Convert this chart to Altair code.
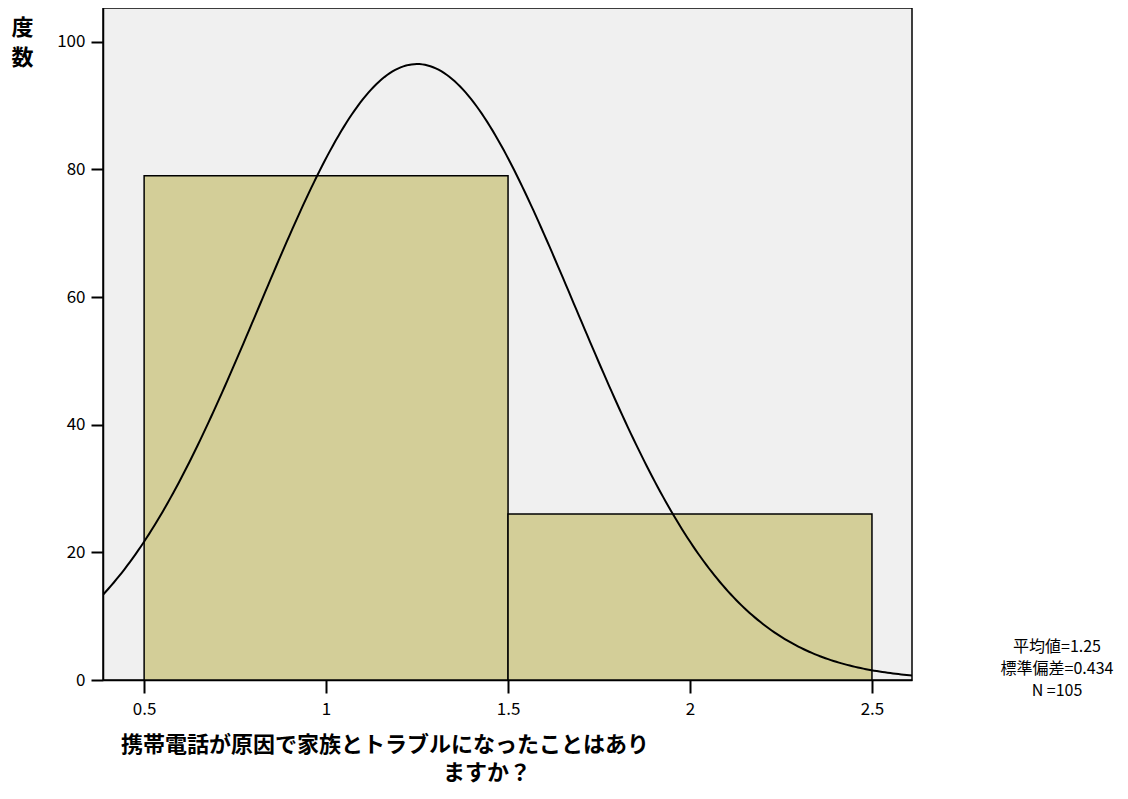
import altair as alt
import numpy as np
import pandas as pd

# ---- data ----
bin_start = [0.5, 1.5]
bin_end = [1.5, 2.5]
counts = [79, 26]

mean_val = 1.25
sd_val = 0.434
n_val = 105
bin_width = 1.0

x_ticks = [0.5, 1, 1.5, 2, 2.5]
y_ticks = [0, 20, 40, 60, 80, 100]

x_title_lines = ["携帯電話が原因で家族とトラブルになったことはあり", "ますか？"]
y_title_lines = ["度", "数"]
stat_lines = ["平均値=1.25", "標準偏差=0.434", "N =105"]

X_DOMAIN = [0.387, 2.61]
Y_DOMAIN = [0, 105.3]

bars_df = pd.DataFrame({"start": bin_start, "end": bin_end, "count": counts})

# fitted normal curve defined by the shown mean, sd and N
xs = np.linspace(X_DOMAIN[0], X_DOMAIN[1], 300)
ys = n_val * bin_width * np.exp(-0.5 * ((xs - mean_val) / sd_val) ** 2) / (sd_val * np.sqrt(2 * np.pi))
curve_df = pd.DataFrame({"x": xs, "y": ys})

FONT = "Noto Sans CJK JP"

xscale = alt.Scale(domain=X_DOMAIN, nice=False, zero=False)
yscale = alt.Scale(domain=Y_DOMAIN, nice=False)

xaxis = alt.Axis(values=x_ticks, title=None, labelFontSize=17, labelFont=FONT,
                 labelColor="black", tickColor="black", domainColor="black",
                 tickSize=13, tickWidth=2, domainWidth=1.5, grid=False, labelPadding=8,
                 labelExpr="datum.value == 1 || datum.value == 2 ? format(datum.value, 'd') : format(datum.value, '.1f')")
yaxis = alt.Axis(values=y_ticks, title=y_title_lines, titleAngle=0, titleFont=FONT,
                 titleFontSize=22, titleFontWeight="bold", titleColor="black",
                 titleX=-81, titleY=9, titleAlign="center", titleBaseline="top",
                 titleLineHeight=30,
                 labelFontSize=17, labelFont=FONT, labelColor="black",
                 tickColor="black", domainColor="black", tickSize=12, tickWidth=2,
                 domainWidth=1.5, grid=False, labelPadding=6)

bars = alt.Chart(bars_df).mark_rect(
    fill="#D3CE98", stroke="black", strokeWidth=1.5
).encode(
    x=alt.X("start:Q", scale=xscale, axis=xaxis),
    x2="end:Q",
    y=alt.Y("count:Q", scale=yscale, axis=yaxis),
    y2=alt.datum(0),
)

curve = alt.Chart(curve_df).mark_line(color="black", strokeWidth=2, clip=True).encode(
    x=alt.X("x:Q", scale=xscale),
    y=alt.Y("y:Q", scale=yscale),
)

xt1 = alt.Chart(pd.DataFrame({"t": [x_title_lines[0]]})).mark_text(
    font=FONT, fontSize=22, fontWeight="bold", color="black", align="center", baseline="middle"
).encode(text="t:N", x=alt.value(282), y=alt.value(737))
xt2 = alt.Chart(pd.DataFrame({"t": [x_title_lines[1]]})).mark_text(
    font=FONT, fontSize=22, fontWeight="bold", color="black", align="center", baseline="middle"
).encode(text="t:N", x=alt.value(384), y=alt.value(765))

stats_df = pd.DataFrame({"t": stat_lines, "yy": [639, 661, 683]})
stats = alt.Chart(stats_df).mark_text(
    font=FONT, fontSize=16, color="black", align="center", baseline="middle"
).encode(text="t:N", x=alt.value(954), y=alt.Y("yy:Q", scale=None))

chart = alt.layer(bars, curve, xt1, xt2, stats).properties(
    width=809, height=672,
    autosize=alt.AutoSizeParams(type="none"),
    padding={"left": 95, "top": 0, "right": 205, "bottom": 110},
    background="white",
).configure_view(
    fill="#F0F0F0", stroke="black", strokeWidth=1.5
)

chart.save("out.html", embed_options={"renderer": "svg", "actions": False})
